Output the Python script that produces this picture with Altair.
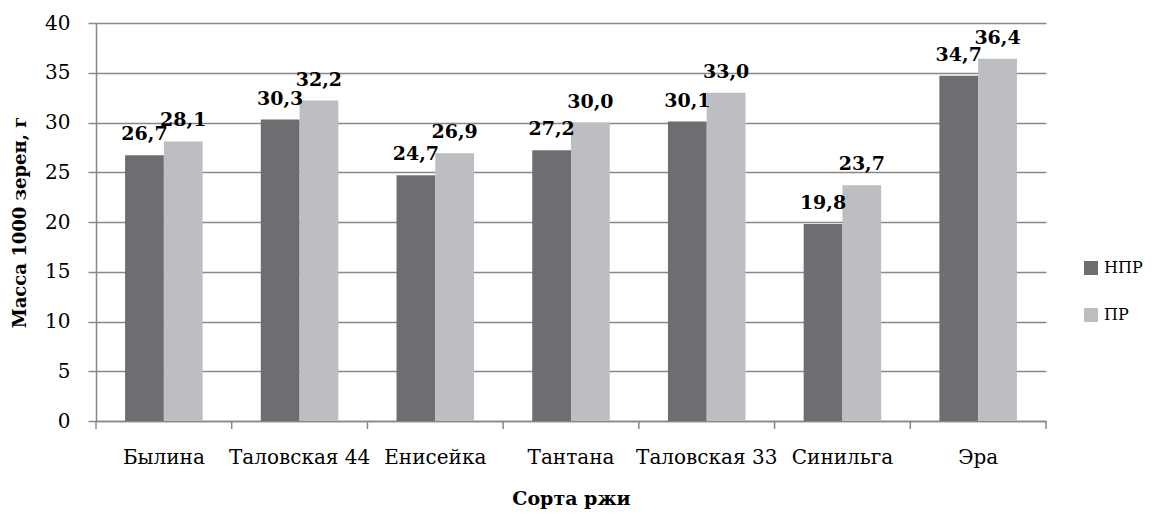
import altair as alt
import pandas as pd

categories = ["Былина", "Таловская 44", "Енисейка", "Тантана", "Таловская 33", "Синильга", "Эра"]
npr = [26.7, 30.3, 24.7, 27.2, 30.1, 19.8, 34.7]
pr = [28.1, 32.2, 26.9, 30.0, 33.0, 23.7, 36.4]
series = ["НПР", "ПР"]
colors = ["#6d6e72", "#bdbec1"]

rows = []
for c, a, b in zip(categories, npr, pr):
    rows.append({"cat": c, "series": "НПР", "value": a, "label": f"{a:.1f}".replace(".", ",")})
    rows.append({"cat": c, "series": "ПР", "value": b, "label": f"{b:.1f}".replace(".", ",")})
df = pd.DataFrame(rows)

FONT = "DejaVu Serif"
GRID = "#888888"

xenc = alt.X("cat:N", sort=categories,
             scale=alt.Scale(paddingInner=0, paddingOuter=0),
             axis=alt.Axis(title="Сорта ржи", labelAngle=0, ticks=False, tickSize=0,
                           labelPadding=26, titlePadding=22, domainColor=GRID,
                           domainWidth=1.5, labelFontSize=20, titleFontSize=19,
                           labelColor="black", titleColor="black", titleFontWeight="bold"))
xoff = alt.XOffset("series:N", sort=series, scale=alt.Scale(paddingInner=0, paddingOuter=0.75))
yenc = alt.Y("value:Q", scale=alt.Scale(domain=[0, 40]),
             axis=alt.Axis(title="Масса 1000 зерен, г", values=list(range(0, 45, 5)),
                           tickSize=8, tickColor=GRID, tickWidth=1.5, labelPadding=18,
                           domainColor=GRID, domainWidth=1.5, gridColor=GRID, gridWidth=1.5,
                           labelFontSize=20, titleFontSize=18, titleFontWeight="bold",
                           labelColor="black", titleColor="black", titlePadding=15))

bars = alt.Chart(df).mark_bar().encode(
    x=xenc, xOffset=xoff, y=yenc,
    color=alt.Color("series:N", sort=series, scale=alt.Scale(domain=series, range=colors),
                    legend=alt.Legend(title=None, orient="none", legendX=987, legendY=237,
                                      symbolType="square", symbolSize=196, symbolStrokeWidth=0,
                                      labelFontSize=16, labelColor="black", rowPadding=31,
                                      labelOffset=5)),
)

text = alt.Chart(df).mark_text(fontWeight="bold", fontSize=19, dy=-11, baseline="bottom",
                               color="black").encode(
    x=alt.X("cat:N", sort=categories), xOffset=alt.XOffset("series:N", sort=series),
    y="value:Q", text="label:N",
)

ticks_df = pd.DataFrame({"cat": categories})
tick_rules = alt.Chart(ticks_df).mark_rule(color=GRID, strokeWidth=1.5).encode(
    x=alt.X("cat:N", sort=categories, bandPosition=0),
    y=alt.value(398), y2=alt.value(406),
)
last_tick = alt.Chart(ticks_df.tail(1)).mark_rule(color=GRID, strokeWidth=1.5).encode(
    x=alt.X("cat:N", sort=categories, bandPosition=1),
    y=alt.value(398), y2=alt.value(406),
)

chart = alt.layer(bars, text, tick_rules, last_tick).properties(
    width=950, height=398,
    autosize=alt.AutoSizeParams(type="none"),
    padding={"left": 88, "top": 15, "right": 104, "bottom": 91},
).configure(font=FONT).configure_view(stroke=None)

chart.save("out.html", embed_options={"renderer": "svg", "actions": False})
